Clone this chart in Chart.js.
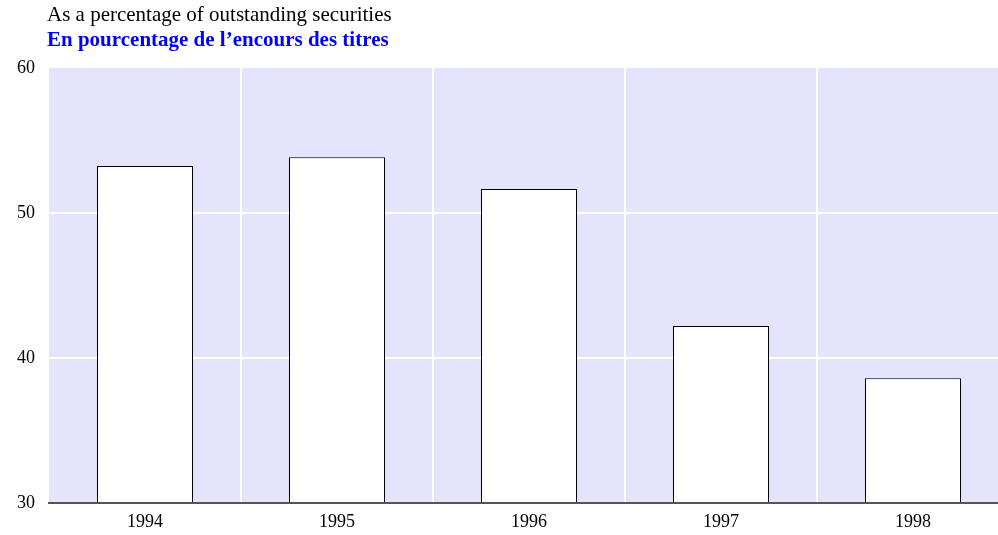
<!DOCTYPE html>
<html lang="en">
<head>
  <meta charset="UTF-8" />
  <title>Outstanding securities</title>
  <script src="https://cdn.jsdelivr.net/npm/chart.js"></script>
  <style>
    html, body {
      margin: 0;
      padding: 0;
      background: #fff;
      overflow: hidden;
      width: 998px;
      height: 535px;
    }
    .wrap {
      position: relative;
      width: 1012px;
      height: 535px;
    }
    .title {
      position: absolute;
      left: 47px;
      font-family: 'Liberation Serif', 'Times New Roman', serif;
      font-size: 21px;
      line-height: 1;
      white-space: nowrap;
    }
    .t1 { top: 4px; color: #000; }
    .t2 { top: 29px; color: #0000ff; font-weight: bold; }
  </style>
</head>
<body>
  <div class="wrap">
    <canvas id="chart" width="1012" height="535"></canvas>
    <div class="title t1">As a percentage of outstanding securities</div>
    <div class="title t2">En pourcentage de l’encours des titres</div>
  </div>

<script>
  // data
  const years = ["1994", "1995", "1996", "1997", "1998"];
  const shareOfOutstanding = [53.25, 53.85, 51.65, 42.2, 38.6];
  const yTicks = [30, 40, 50, 60];

  // lavender plot background
  const plotBg = {
    id: "plotBg",
    beforeDraw(chart) {
      const { ctx, chartArea: a } = chart;
      ctx.save();
      ctx.fillStyle = "#e4e4fc";
      ctx.fillRect(a.left, a.top, a.right - a.left, a.bottom - a.top);
      ctx.restore();
    }
  };

  // baseline drawn over the bars
  const baseLine = {
    id: "baseLine",
    afterDatasetsDraw(chart) {
      const { ctx, chartArea: a } = chart;
      ctx.save();
      ctx.strokeStyle = "#555555";
      ctx.lineWidth = 2;
      ctx.beginPath();
      ctx.moveTo(a.left - 1, a.bottom);
      ctx.lineTo(a.right, a.bottom);
      ctx.stroke();
      ctx.restore();
    }
  };

  const font = { family: "'Liberation Serif', 'Times New Roman', serif", size: 18 };

  new Chart(document.getElementById("chart"), {
    type: "bar",
    data: {
      labels: years,
      datasets: [{
        data: shareOfOutstanding,
        backgroundColor: "#ffffff",
        borderColor: "#000000",
        borderWidth: 1,
        borderSkipped: "bottom",
        categoryPercentage: 1,
        barPercentage: 0.5
      }]
    },
    options: {
      responsive: false,
      animation: false,
      layout: { padding: { top: 68, right: 3, left: 0, bottom: 0 } },
      plugins: {
        legend: { display: false },
        tooltip: { enabled: false }
      },
      scales: {
        x: {
          offset: true,
          grid: {
            offset: true,
            drawTicks: false,
            lineWidth: 2,
            color: c => (c.index === 0 || c.index === years.length) ? "rgba(0,0,0,0)" : "#ffffff"
          },
          border: { display: false },
          ticks: { color: "#000", font: font, padding: 8 },
          afterFit: s => { s.height = 32; }
        },
        y: {
          min: 30,
          max: 60,
          afterBuildTicks: s => { s.ticks = yTicks.map(v => ({ value: v })); },
          grid: {
            drawTicks: false,
            lineWidth: 2,
            color: c => (c.tick && (c.tick.value === 30 || c.tick.value === 60)) ? "rgba(0,0,0,0)" : "#ffffff"
          },
          border: { display: false },
          ticks: { color: "#000", font: font, padding: 14 },
          afterFit: s => { s.width = 49; }
        }
      }
    },
    plugins: [plotBg, baseLine]
  });
</script>
</body>
</html>
